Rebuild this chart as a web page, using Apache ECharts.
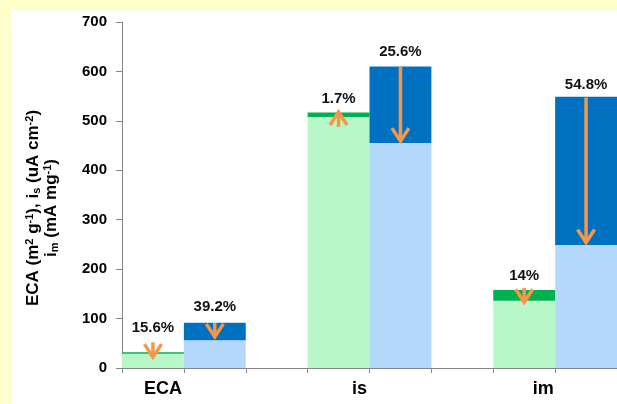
<!DOCTYPE html>
<html>
<head>
<meta charset="utf-8">
<script src="https://cdn.jsdelivr.net/npm/echarts@6/dist/echarts.min.js"></script>
<style>
  html, body { margin: 0; padding: 0; background: #FFFFCC; }
  #chart { position: absolute; left: 11px; top: 10px; width: 606px; height: 394px; background: #fff; }
</style>
</head>
<body>
<div id="chart"></div>
<script>
// groups on the x axis
var groups = ['ECA', 'is', 'im'];
// green bars: value before / after
var greenBefore = [32, 517, 158];
var greenAfter = [29, 508, 136];
// blue bars: value before / after
var blueBefore = [91.5, 610, 549];
var blueAfter = [56, 455, 249];
// percent change labels (green, blue for each group)
var pctText = ['15.6%', '39.2%', '1.7%', '25.6%', '14%', '54.8%'];
var pctY = [82, 124, 544, 640, 186, 573];
// orange arrows: start / end value (green, blue for each group)
var arrowFrom = [52, 91, 488, 610, 162, 547];
var arrowTo = [20, 61, 520, 457, 131, 252];
var yTicks = [0, 100, 200, 300, 400, 500, 600, 700];

var FONT = '"Liberation Sans", Arial, sans-serif';
var lightGreen = '#B7F7C8', darkGreen = '#00B050';
var lightBlue = '#B4D8FB', darkBlue = '#0070C0';
var orange = '#F79646';

// 8 slots: green, blue, gap, green, blue, gap, green, blue
var slots = [], baseData = [], topData = [], slotOf = [];
groups.forEach(function (g, i) {
    slots.push(g + '-green');
    slotOf.push(slots.length - 1);
    baseData.push({ value: greenAfter[i], itemStyle: { color: lightGreen } });
    topData.push({ value: greenBefore[i] - greenAfter[i], itemStyle: { color: darkGreen } });
    slots.push(g + '-blue');
    slotOf.push(slots.length - 1);
    baseData.push({ value: blueAfter[i], itemStyle: { color: lightBlue } });
    topData.push({ value: blueBefore[i] - blueAfter[i], itemStyle: { color: darkBlue } });
    if (i < groups.length - 1) {
        slots.push('gap' + i);
        baseData.push('-');
        topData.push('-');
    }
});

var arrowData = slotOf.map(function (s, k) { return [s, arrowFrom[k], arrowTo[k]]; });
var labelData = slotOf.map(function (s, k) { return [s, pctY[k]]; });

// shift of each group label to the right (px)
var labelShift = { 0: 10, 3: 21, 6: 19 };

function groupLabel(idx) {
    return { fontFamily: FONT, fontWeight: 'bold', fontSize: 18, color: '#000', padding: [0, 0, 0, 2 * labelShift[idx]] };
}

var myChart = echarts.init(document.getElementById('chart'));
myChart.setOption({
    animation: false,
    grid: { left: 111, right: -6, top: 12, bottom: 36 },
    xAxis: {
        type: 'category',
        data: slots,
        axisLine: { lineStyle: { color: '#868686', width: 1 } },
        axisTick: { show: true, interval: 0, length: 5, lineStyle: { color: '#868686' } },
        axisLabel: {
            interval: 0,
            margin: 12,
            formatter: function (v, idx) {
                var gi = slotOf.indexOf(idx);
                if (gi < 0 || gi % 2 === 1) return '';
                return '{s' + idx + '|' + groups[gi / 2] + '}';
            },
            rich: { s0: groupLabel(0), s3: groupLabel(3), s6: groupLabel(6) }
        }
    },
    yAxis: {
        type: 'value',
        min: yTicks[0],
        max: yTicks[yTicks.length - 1],
        interval: 100,
        splitLine: { show: false },
        axisLine: { show: true, lineStyle: { color: '#868686' } },
        axisTick: { show: true, length: 6, lineStyle: { color: '#868686' } },
        axisLabel: { margin: 15, fontFamily: FONT, fontWeight: 'bold', fontSize: 15, color: '#000' },
        name: '{t|ECA (m}{sup|2}{t| g}{sup|-1}{t|), i}{sub|s}{t| (uA cm}{sup|-2}{t|)}\n{t|i}{sub|m}{t| (mA mg}{sup|-1}{t|)}',
        nameLocation: 'middle',
        nameRotate: 90,
        nameGap: 62,
        nameTextStyle: {
            align: 'center',
            padding: [0, 26, 0, 0],
            rich: {
                t: { fontFamily: FONT, fontWeight: 'bold', fontSize: 17, lineHeight: 18, color: '#000' },
                sup: { fontFamily: FONT, fontWeight: 'bold', fontSize: 11, lineHeight: 18, verticalAlign: 'top', color: '#000', padding: [0, 0, 6, 0] },
                sub: { fontFamily: FONT, fontWeight: 'bold', fontSize: 11, lineHeight: 18, verticalAlign: 'bottom', color: '#000', padding: [4, 0, 0, 0] }
            }
        }
    },
    series: [
        {
            type: 'bar',
            stack: 'total',
            barCategoryGap: '0%',
            data: baseData
        },
        {
            type: 'bar',
            stack: 'total',
            barCategoryGap: '0%',
            data: topData
        },
        {
            type: 'custom',
            encode: { x: 0, y: [1, 2] },
            data: arrowData,
            z: 5,
            renderItem: function (params, api) {
                var p1 = api.coord([api.value(0), api.value(1)]);
                var p2 = api.coord([api.value(0), api.value(2)]);
                var dir = p2[1] > p1[1] ? 1 : -1;
                var x = p1[0];
                var style = { stroke: orange, lineWidth: 3.5, fill: null, lineJoin: 'miter' };
                return {
                    type: 'group',
                    children: [
                        { type: 'polyline', shape: { points: [[x, p1[1]], [x, p2[1] - dir * 2]] }, style: style },
                        { type: 'polyline', shape: { points: [[x - 8.5, p2[1] - dir * 14], [x, p2[1] - dir * 1], [x + 8.5, p2[1] - dir * 14]] }, style: style }
                    ]
                };
            }
        },
        {
            type: 'custom',
            encode: { x: 0, y: 1 },
            data: labelData,
            z: 6,
            renderItem: function (params, api) {
                var p = api.coord([api.value(0), api.value(1)]);
                return {
                    type: 'text',
                    x: p[0],
                    y: p[1],
                    style: {
                        text: pctText[params.dataIndex],
                        align: 'center',
                        verticalAlign: 'middle',
                        font: 'bold 15px ' + FONT,
                        fill: '#111'
                    }
                };
            }
        }
    ]
});
</script>
</body>
</html>
